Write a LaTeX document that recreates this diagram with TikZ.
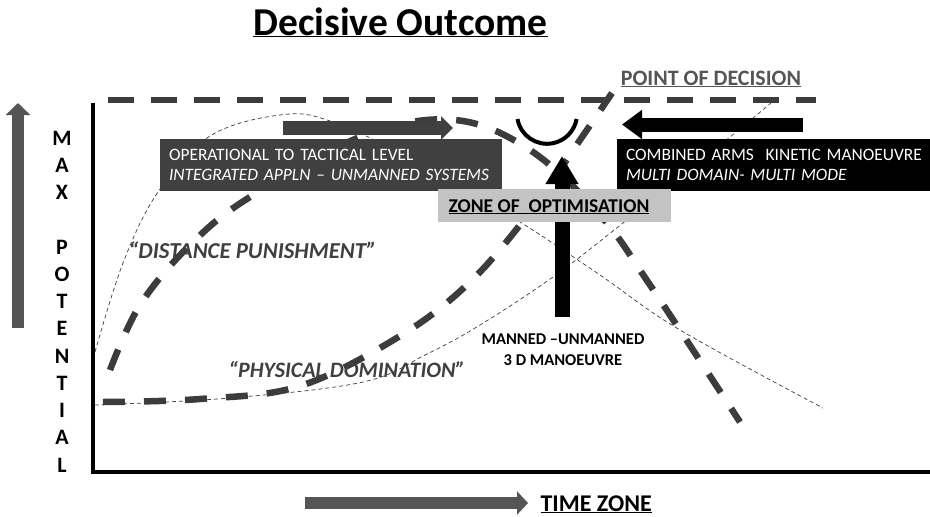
\documentclass[tikz,border=0pt]{standalone}
\usepackage{fontspec}
\setmainfont{Carlito}
\usetikzlibrary{arrows.meta}
\definecolor{dg}{HTML}{3C3C3C}
\definecolor{mg}{HTML}{555555}
\definecolor{lg}{HTML}{C3C3C3}
\definecolor{bx}{HTML}{404040}
\begin{document}
\begin{tikzpicture}[x=1pt,y=-1pt,
  thickdash/.style={draw=dg, line width=6.5pt, dash pattern=on 22pt off 19pt},
  thindash/.style={draw=dg, line width=0.7pt, dash pattern=on 4pt off 3pt},
  topdash/.style={draw=dg, line width=6pt, dash pattern=on 26pt off 17pt},
  axis/.style={draw=black, line width=4.5pt},
  blockarrow/.style n args={4}{draw=#1, line width=#2, -{Triangle[width=#3,length=#4]}},
  boxtext/.style={text=white, align=left, inner xsep=9pt, inner ysep=0pt,
    font=\fontsize{17.4}{20}\selectfont, minimum height=52pt},
  quote/.style={text=bx, font=\fontsize{22}{25}\selectfont\bfseries\itshape, anchor=base west},
  vletter/.style={font=\fontsize{22}{24}\selectfont\bfseries, anchor=base}
]
\useasboundingbox (0,0) rectangle (930,517);

% title
\node[font=\fontsize{39.5}{42}\selectfont\bfseries, anchor=base] (title) at (400.5,35) {\underline{Decisive Outcome}};

% axes
\coordinate (o) at (93,472);
\coordinate (ytop) at (93,103);
\coordinate (xend) at (930,472);
\draw[axis] (ytop) -- (o) -- (xend);

% top dashed line
\coordinate (t0) at (108,100);
\coordinate (t1) at (816,100);
\draw[topdash] (t0) -- (t1);

% thin dashed curves
\draw[thindash] plot[smooth, tension=0.6] coordinates {(95,352) (123,263) (158,192) (210,136) (280,115) (330,121) (420,163) (520,222) (600,275) (680,330) (823,408)};
\draw[thindash] plot[smooth, tension=0.6] coordinates {(95,405) (230,398) (363,382) (427,354) (480,325) (553,277) (623,223) (730,137) (778,97)};

% thick dashed curves
\draw[thickdash] plot[smooth, tension=0.6] coordinates {(110,370) (140,305) (190,245) (250,197) (365,135) (455,120) (530,150) (600,215) (650,285) (740,422)};
\draw[thickdash] plot[smooth, tension=0.6] coordinates {(103,402) (200,399) (300,386) (400,336) (470,282) (530,212) (580,140) (612,93)};

% decision arc
\coordinate (arcstart) at (517.5,119);
\draw[black, line width=4pt] (arcstart) arc[start angle=170, end angle=10, radius=30];

% block arrows
\coordinate (ya0) at (18,328); \coordinate (ya1) at (18,103);
\draw[blockarrow={mg}{12pt}{24pt}{12pt}] (ya0) -- (ya1);
\coordinate (xa0) at (305,503); \coordinate (xa1) at (528,503);
\draw[blockarrow={mg}{12pt}{23pt}{11pt}] (xa0) -- (xa1);
\coordinate (la0) at (283,128); \coordinate (la1) at (453,128);
\draw[blockarrow={bx}{14pt}{23pt}{12pt}] (la0) -- (la1);
\coordinate (ra0) at (803,124.5); \coordinate (ra1) at (622,124.5);
\draw[blockarrow={black}{14pt}{28pt}{20pt}] (ra0) -- (ra1);
\coordinate (va0) at (562,317); \coordinate (va1) at (562,156);
\draw[blockarrow={black}{15pt}{31pt}{28pt}] (va0) -- (va1);

% boxes
\node[boxtext, fill=bx, minimum width=342pt, text width=324pt] (opbox) at (331,164.5)
  {\mbox{OPERATIONAL TO TACTICAL LEVEL}\\\mbox{\itshape INTEGRATED APPLN – UNMANNED SYSTEMS}};
\node[boxtext, fill=black, minimum width=313pt, text width=295pt] (cabox) at (773.5,164.5)
  {\mbox{COMBINED ARMS\ \ KINETIC MANOEUVRE}\\\mbox{\itshape MULTI DOMAIN- MULTI MODE}};
\node[fill=lg, minimum width=233pt, minimum height=33pt, inner sep=0pt] (zbox) at (554.5,205.5) {};
\node[font=\fontsize{19.5}{22}\selectfont\bfseries, anchor=base] (ztext) at (549,212) {\underline{ZONE OF\ \ OPTIMISATION}};

% labels
\node[font=\fontsize{22}{24}\selectfont\bfseries, text=mg, anchor=base] (pod) at (711,85) {\underline{POINT OF DECISION}};
\node[font=\fontsize{24}{26}\selectfont\bfseries, anchor=base west] (tz) at (537,511) {\underline{TIME ZONE}};
\node[font=\fontsize{16.5}{21}\selectfont\bfseries, align=center, anchor=base] (mu1) at (563,344) {MANNED –UNMANNED};
\node[font=\fontsize{16.5}{21}\selectfont\bfseries, align=center, anchor=base] (mu2) at (563,365) {3 D MANOEUVRE};
\node[quote, font=\fontsize{22.8}{25}\selectfont\bfseries\itshape] (dp) at (125,258) {“DISTANCE PUNISHMENT”};
\node[quote] (pd) at (225,377) {“PHYSICAL DOMINATION”};

% vertical axis label
\foreach \l/\yy [count=\i] in {M/145,A/172.25,X/199.5,P/254,O/281.25,T/308.5,E/335.75,N/363,T/390.25,I/417.5,A/444.75,L/472}
  \node[vletter] (mp\i) at (62,\yy) {\l};
\end{tikzpicture}
\end{document}
